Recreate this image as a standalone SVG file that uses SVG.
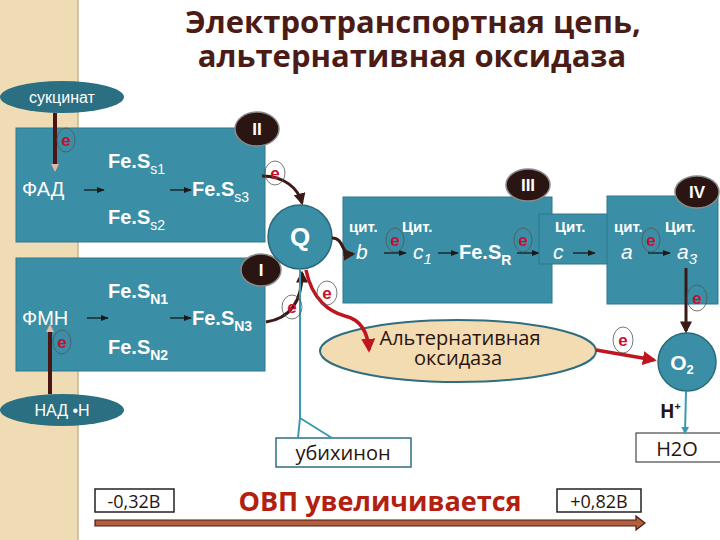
<svg xmlns="http://www.w3.org/2000/svg" width="720" height="540" viewBox="0 0 720 540">
<defs>
<style>
.box{fill:#3a8ea5;stroke:#2f7890;stroke-width:1}
.badge{fill:#2a1512;stroke:#8a8a8a;stroke-width:1.5}
.btxt{font-family:"Liberation Sans",Arial,sans-serif;font-weight:bold;font-size:17px;fill:#ffffff;text-anchor:middle}
.wt{font-family:"Liberation Sans",Arial,sans-serif;fill:#ffffff}
.fe{font-family:"Liberation Sans",Arial,sans-serif;font-weight:bold;font-size:20px;fill:#ffffff}
.sub{font-size:14px;font-weight:normal}
.subb{font-size:14px;font-weight:bold}
.cyt{font-family:"Liberation Sans",Arial,sans-serif;font-weight:bold;font-size:15px;fill:#ffffff}
.it{font-family:"Liberation Sans",Arial,sans-serif;font-style:italic;font-size:21px;fill:#ffffff}
.ecirc{fill:none;stroke:#555;stroke-width:0.8}
.etxt{font-family:"Liberation Sans",Arial,sans-serif;font-weight:bold;font-size:17px;fill:#c8102e;text-anchor:middle}
.dark{fill:none;stroke:#3a1a14;stroke-width:3}
.red{fill:none;stroke:#c0141e;stroke-width:3.5}
.thin{fill:none;stroke:#1a1a1a;stroke-width:1.3}
.teal{fill:none;stroke:#3a9ab0;stroke-width:2}
.lbl{font-family:"Open Sans","Liberation Sans",sans-serif;fill:#2a1410}
</style>
<marker id="mDark" viewBox="0 0 10 10" refX="8" refY="5" markerWidth="4" markerHeight="4" orient="auto"><path d="M0,0 L10,5 L0,10 z" fill="#3a1a14"/></marker>
<marker id="mRed" viewBox="0 0 10 10" refX="8" refY="5" markerWidth="4" markerHeight="4" orient="auto"><path d="M0,0 L10,5 L0,10 z" fill="#c0141e"/></marker>
<marker id="mThin" viewBox="0 0 10 10" refX="9" refY="5" markerWidth="6" markerHeight="6" orient="auto"><path d="M0,1 L10,5 L0,9 z" fill="#1a1a1a"/></marker>
<marker id="mTeal" viewBox="0 0 10 10" refX="8" refY="5" markerWidth="4" markerHeight="4" orient="auto"><path d="M0,0 L10,5 L0,10 z" fill="#3a9ab0"/></marker>
</defs>
<rect width="720" height="540" fill="#ffffff"/>
<rect x="0" y="0" width="78" height="540" fill="#efdcb4"/>
<line x1="78" y1="0" x2="78" y2="540" stroke="#c9b48c" stroke-width="1.5"/>

<g id="title" font-family="Open Sans,Liberation Sans,sans-serif" font-weight="bold" font-size="31" fill="#4b1c16" text-anchor="middle">
<text x="413" y="33">Электротранспортная цепь,</text>
<text x="412" y="67">альтернативная оксидаза</text>
</g>

<g id="complexII">
<rect class="box" x="16" y="128" width="249" height="114"/>
<text class="wt" x="22" y="196" font-size="20">ФАД</text>
<text class="fe" x="108" y="168">Fe.S<tspan class="sub" dy="6">s1</tspan></text>
<text class="fe" x="192" y="196">Fe.S<tspan class="sub" dy="6">s3</tspan></text>
<text class="fe" x="108" y="224">Fe.S<tspan class="sub" dy="6">s2</tspan></text>
<line class="thin" x1="84" y1="190" x2="104" y2="190" marker-end="url(#mThin)"/>
<line class="thin" x1="170" y1="190" x2="191" y2="190" marker-end="url(#mThin)"/>
<ellipse class="badge" cx="257" cy="129" rx="22" ry="17"/>
<text class="btxt" x="257" y="135">II</text>
</g>

<g id="complexI">
<rect class="box" x="16" y="258" width="249" height="113"/>
<text class="wt" x="22" y="325" font-size="20">ФМН</text>
<text class="fe" x="108" y="298">Fe.S<tspan class="subb" dy="6">N1</tspan></text>
<text class="fe" x="192" y="325">Fe.S<tspan class="subb" dy="6">N3</tspan></text>
<text class="fe" x="108" y="354">Fe.S<tspan class="subb" dy="6">N2</tspan></text>
<line class="thin" x1="87" y1="318" x2="108" y2="318" marker-end="url(#mThin)"/>
<line class="thin" x1="170" y1="318" x2="191" y2="318" marker-end="url(#mThin)"/>
<ellipse class="badge" cx="261" cy="270" rx="20" ry="16"/>
<text class="btxt" x="261" y="276">I</text>
</g>

<g id="succinate">
<ellipse cx="62" cy="97" rx="62" ry="16" fill="#2b6f82"/>
<text class="wt" x="62" y="103" font-size="16" text-anchor="middle" font-family="Open Sans,Liberation Sans,sans-serif">сукцинат</text>
</g>

<g id="nadh">
<ellipse cx="62" cy="410" rx="62" ry="16" fill="#2b6f82"/>
<text class="wt" x="62" y="416" font-size="16" text-anchor="middle" font-family="Open Sans,Liberation Sans,sans-serif">НАД •Н</text>
</g>

<g id="Q">
<circle cx="300" cy="237" r="32" fill="#3a8ea5" stroke="#2a6a7a" stroke-width="1.5"/>
<text class="wt" x="300" y="246" font-size="26" font-weight="bold" text-anchor="middle">Q</text>
</g>

<g id="complexIII">
<rect class="box" x="343" y="197" width="209" height="106"/>
<text class="cyt" x="349" y="232">цит.</text>
<text class="cyt" x="402" y="232">Цит.</text>
<text class="it" x="356" y="259">b</text>
<text class="it" x="413" y="259">c<tspan font-size="15" dy="5">1</tspan></text>
<text class="fe" x="459" y="259">Fe.S<tspan class="subb" dy="6">R</tspan></text>
<line class="thin" x1="384" y1="253" x2="406" y2="253" marker-end="url(#mThin)"/>
<line class="thin" x1="438" y1="253" x2="458" y2="253" marker-end="url(#mThin)"/>
<line class="thin" x1="517" y1="253" x2="539" y2="253" marker-end="url(#mThin)"/>
<ellipse class="badge" cx="528" cy="185" rx="22" ry="16"/>
<text class="btxt" x="528" y="191">III</text>
</g>

<g id="cytc">
<rect class="box" x="539" y="214" width="69" height="50"/>
<text class="cyt" x="555" y="232">Цит.</text>
<text class="it" x="553" y="259">c</text>
<line class="thin" x1="573" y1="253" x2="595" y2="253" marker-end="url(#mThin)"/>
</g>

<g id="complexIV">
<rect class="box" x="607" y="196" width="111" height="108"/>
<text class="cyt" x="614" y="232">цит.</text>
<text class="cyt" x="665" y="232">Цит.</text>
<text class="it" x="621" y="259">a</text>
<text class="it" x="677" y="259">a<tspan font-size="15" dy="5">3</tspan></text>
<line class="thin" x1="648" y1="253" x2="670" y2="253" marker-end="url(#mThin)"/>
<ellipse class="badge" cx="697" cy="192" rx="22" ry="16"/>
<text class="btxt" x="697" y="198">IV</text>
</g>

<g id="altox">
<ellipse cx="458" cy="351" rx="138" ry="31" fill="#f3dcb1" stroke="#2e6e80" stroke-width="2"/>
<text class="lbl" x="460" y="345" font-size="20" text-anchor="middle">Альтернативная</text>
<text class="lbl" x="458" y="365" font-size="20" text-anchor="middle">оксидаза</text>
</g>

<g id="O2">
<circle cx="687" cy="362" r="29" fill="#3a8ea5" stroke="#2a6a7a" stroke-width="1.5"/>
<text class="wt" x="682" y="370" font-size="21" font-weight="bold" text-anchor="middle" font-family="Open Sans,Liberation Sans,sans-serif">O<tspan font-size="13" dy="4">2</tspan></text>
</g>

<g id="H2O">
<text class="lbl" x="660" y="418" font-size="19" font-weight="bold">H<tspan font-size="11" dy="-8">+</tspan></text>
<rect x="636" y="433" width="86" height="29" fill="#ffffff" stroke="#222" stroke-width="1"/>
<text class="lbl" x="677" y="456" font-size="20" text-anchor="middle">H2O</text>
</g>

<g id="ubiquinone">
<rect x="276" y="438" width="135" height="29" fill="#ffffff" stroke="#2e6e80" stroke-width="1.5"/>
<text class="lbl" x="343" y="460" font-size="20" text-anchor="middle">убихинон</text>
</g>

<g id="scale">
<rect x="95" y="489" width="79" height="23" fill="#ffffff" stroke="#222" stroke-width="1.5"/>
<text class="lbl" x="134" y="508" font-size="18" text-anchor="middle">-0,32В</text>
<rect x="557" y="489" width="84" height="23" fill="#ffffff" stroke="#222" stroke-width="1.5"/>
<text class="lbl" x="599" y="508" font-size="18" text-anchor="middle">+0,82В</text>
<text x="380" y="511" font-family="Open Sans,Liberation Sans,sans-serif" font-weight="bold" font-size="27" fill="#b3200f" text-anchor="middle">ОВП увеличивается</text>
<path d="M95,520 L636,520 L636,516 L645,523 L636,530 L636,526 L95,526 z" fill="#b0603f" stroke="#4a1a10" stroke-width="1.2"/>
</g>

<g id="connectors">
<line x1="55" y1="113" x2="55" y2="166" stroke="#4a1512" stroke-width="4"/>
<path d="M51,164 L59,164 L55,172 z" fill="#e6b4a4"/>
<line x1="50" y1="394" x2="50" y2="330" stroke="#4a1512" stroke-width="4"/>
<path d="M46,332 L54,332 L50,324 z" fill="#e6b4a4"/>
<path class="dark" d="M262,176 C284,176 298,188 302,203" marker-end="url(#mDark)"/>
<path class="dark" d="M332,238 C345,238 340,255 353,254" stroke-width="2" marker-end="url(#mDark)"/>
<path class="dark" d="M266,322 C292,318 302,300 302,273" marker-end="url(#mDark)"/>
<path class="teal" d="M300,270 L300,418 L298,438 M300,418 L332,438"/>
<path class="red" d="M306,270 C312,300 330,312 345,316 C362,320 368,335 369,350" marker-end="url(#mRed)"/>
<path class="red" d="M596,350 L654,360" marker-end="url(#mRed)"/>
<path class="dark" d="M686,268 L686,331" stroke-width="2.5" marker-end="url(#mDark)"/>
<path class="teal" d="M686,391 L685,433" marker-end="url(#mTeal)"/>
</g>

<g id="electrons">
<ellipse class="ecirc" cx="66" cy="140" rx="9" ry="12"/><text class="etxt" x="66" y="146">e</text>
<ellipse class="ecirc" cx="62" cy="342" rx="9" ry="12"/><text class="etxt" x="62" y="348">e</text>
<ellipse class="ecirc" cx="275" cy="173" rx="10" ry="12"/><text class="etxt" x="275" y="179">e</text>
<ellipse class="ecirc" cx="292" cy="307" rx="10" ry="12"/><text class="etxt" x="292" y="313">e</text>
<ellipse class="ecirc" cx="327" cy="293" rx="10" ry="12"/><text class="etxt" x="327" y="299">e</text>
<ellipse class="ecirc" cx="395" cy="240" rx="9" ry="12"/><text class="etxt" x="395" y="246">e</text>
<ellipse class="ecirc" cx="523" cy="240" rx="9" ry="12"/><text class="etxt" x="523" y="246">e</text>
<ellipse class="ecirc" cx="651" cy="240" rx="9" ry="12"/><text class="etxt" x="651" y="246">e</text>
<ellipse class="ecirc" cx="697" cy="298" rx="10" ry="13"/><text class="etxt" x="697" y="304">e</text>
<ellipse class="ecirc" cx="623" cy="340" rx="10" ry="13"/><text class="etxt" x="623" y="346">e</text>
</g>
</svg>
